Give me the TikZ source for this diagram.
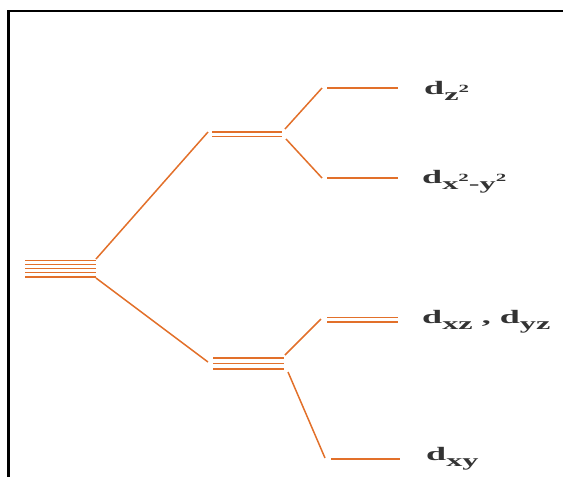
\documentclass[tikz,border=0pt]{standalone}
\usepackage{fontspec}
\setmainfont{Liberation Serif}
\usepackage{tikz}
\definecolor{levelorange}{HTML}{E2702A}
\definecolor{labelgray}{HTML}{333333}
% wide, bold orbital labels
\newcommand{\orblbl}[1]{\scalebox{1.9}[1]{#1}}
\newcommand{\orbsub}[1]{\raisebox{-6pt}{\fontsize{17}{17}\selectfont #1}}
\newcommand{\orbsq}{\raisebox{7.5pt}{\fontsize{11}{11}\selectfont 2}}

\begin{document}
\begin{tikzpicture}[x=1pt, y=-1pt,
    level/.style={draw=levelorange, line width=1.6pt},
    link/.style={draw=levelorange, line width=1.5pt},
    orb/.style={anchor=base west, inner sep=0pt, text=labelgray,
                font=\fontsize{19}{19}\selectfont\bfseries}
  ]
    \useasboundingbox (0,0) rectangle (563,477);
    % frame
    \draw[line width=2.8pt] (8.5,477) -- (8.5,11) -- (563,11);

    % free ion: five degenerate levels
    \foreach \y in {260.5,264.5,268.5,272.5,277}
      \draw[level] (25,\y) -- (96,\y);
    \coordinate (ion-t) at (96,259);
    \coordinate (ion-b) at (96,278);

    % upper pair
    \foreach \y in {132,136.5}
      \draw[level] (212,\y) -- (282,\y);
    \coordinate (eg-l) at (208,132);
    \coordinate (eg-rt) at (285,129);
    \coordinate (eg-rb) at (286,139);

    % lower triple
    \foreach \y in {358,363.5,369}
      \draw[level] (213,\y) -- (284,\y);
    \coordinate (t2g-l) at (208,362);
    \coordinate (t2g-rt) at (285,355);
    \coordinate (t2g-rb) at (288,372);

    % split levels
    \draw[level] (327,88) -- (398,88);
    \coordinate (z2) at (322,88);
    \draw[level] (327,178) -- (398,178);
    \coordinate (x2y2) at (322,178);
    \foreach \y in {317.5,322}
      \draw[level] (327,\y) -- (398,\y);
    \coordinate (xzyz) at (321,319);
    \draw[level] (331,459) -- (400,459);
    \coordinate (xy) at (325,458);

    % connectors
    \draw[link] (ion-t) -- (eg-l);
    \draw[link] (ion-b) -- (t2g-l);
    \draw[link] (eg-rt) -- (z2);
    \draw[link] (eg-rb) -- (x2y2);
    \draw[link] (t2g-rt) -- (xzyz);
    \draw[link] (t2g-rb) -- (xy);

    % labels
    \node[orb] (lz2) at (424,94) {\orblbl{d\orbsub{z\orbsq}}};
    \node[orb] (lx2y2) at (422,183) {\orblbl{d\orbsub{x\orbsq-y\orbsq}}};
    \node[orb] (lxzyz) at (422,323) {\orblbl{d\orbsub{xz} , d\orbsub{yz}}};
    \node[orb] (lxy) at (426,460) {\orblbl{d\orbsub{xy}}};
  \end{tikzpicture}
\end{document}
